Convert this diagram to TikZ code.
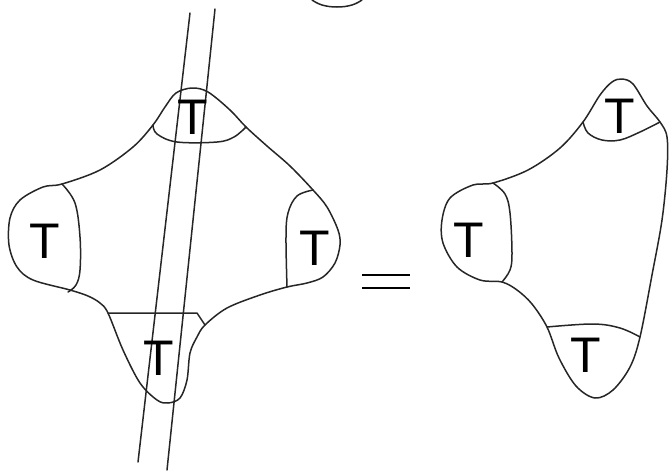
\documentclass[tikz,border=0pt]{standalone}
\usepackage{fontspec}
\setmainfont{Liberation Sans}
\begin{document}
\begin{tikzpicture}[x=1pt,y=-1pt,
  edge/.style={line width=1.5pt, draw=black!85, line join=round, line cap=round},
  tlab/.style={inner sep=0pt, font=\fontsize{50}{50}\selectfont}]
\useasboundingbox (0,0) rectangle (669,472);
% small arc at top
\draw[edge] plot[smooth, tension=0.7] coordinates {(312,0) (322,5) (337,7) (352,5) (362,0)};
% left blob outline
\draw[edge] plot[smooth cycle, tension=0.55] coordinates {
 (192,88) (208,92) (230,110) (246,127) (267,146) (290,166) (313,190) (327,207)
 (338,230) (340,245) (335,263) (323,277) (307,283) (287,287) (260,295) (227,308)
 (205,325) (197,337) (190,353) (187,380) (180,398) (168,403) (157,400) (140,383)
 (123,350) (108,313) (100,303) (88,296) (70,290) (33,280) (17,267) (9,245) (10,218)
 (20,200) (43,187) (62,184) (100,170) (133,147) (153,125) (165,107) (176,93)};
% inner boundaries left
\draw[edge] plot[smooth, tension=0.6] coordinates {(153,125) (157,134) (177,142) (217,142) (234,137) (246,127)};
\draw[edge] plot[smooth, tension=0.6] coordinates {(62,184) (75,203) (80,237) (80,270) (76,285) (68,292)};
\draw[edge] plot[smooth, tension=0.6] coordinates {(313,190) (297,196) (288,213) (286,237) (287,287)};
\draw[edge] (108,313) -- (197,313) -- (205,325);
% the two long lines
\coordinate (a1) at (190,13); \coordinate (a2) at (138,462);
\coordinate (b1) at (215,9);  \coordinate (b2) at (167,470);
\draw[edge] (a1) -- (a2);
\draw[edge] (b1) -- (b2);
% labels left
\node[tlab] (lt) at (193,117) {T};
\node[tlab] (ll) at (45,241) {T};
\node[tlab] (lr) at (315,248) {T};
\node[tlab] (lb) at (159,358) {T};
% equals
\coordinate (e1) at (362,275); \coordinate (e2) at (410,275);
\coordinate (e3) at (362,288); \coordinate (e4) at (410,288);
\draw[line width=2pt] (e1) -- (e2);
\draw[line width=2pt] (e3) -- (e4);
% right blob outline
\draw[edge] plot[smooth cycle, tension=0.55] coordinates {
 (622,79) (633,84) (647,106) (660,122) (667,137) (667,170) (662,220) (652,275)
 (640,337) (630,367) (613,390) (595,398) (576,386) (559,358) (547,327) (532,304)
 (517,290) (502,282) (480,280) (457,267) (443,243) (442,220) (450,198) (473,185)
 (493,183) (528,170) (560,148) (583,122) (600,95) (612,82)};
% inner boundaries right
\draw[edge] plot[smooth, tension=0.6] coordinates {(583,122) (588,133) (602,140) (620,140) (640,132) (660,122)};
\draw[edge] plot[smooth, tension=0.6] coordinates {(493,183) (505,194) (510,213) (512,253) (510,270) (502,282)};
\draw[edge] plot[smooth, tension=0.6] coordinates {(547,327) (593,324) (620,328) (640,337)};
% labels right
\node[tlab] (rt) at (620,116) {T};
\node[tlab] (rl) at (469,240) {T};
\node[tlab] (rb) at (586,355) {T};
\end{tikzpicture}
\end{document}
